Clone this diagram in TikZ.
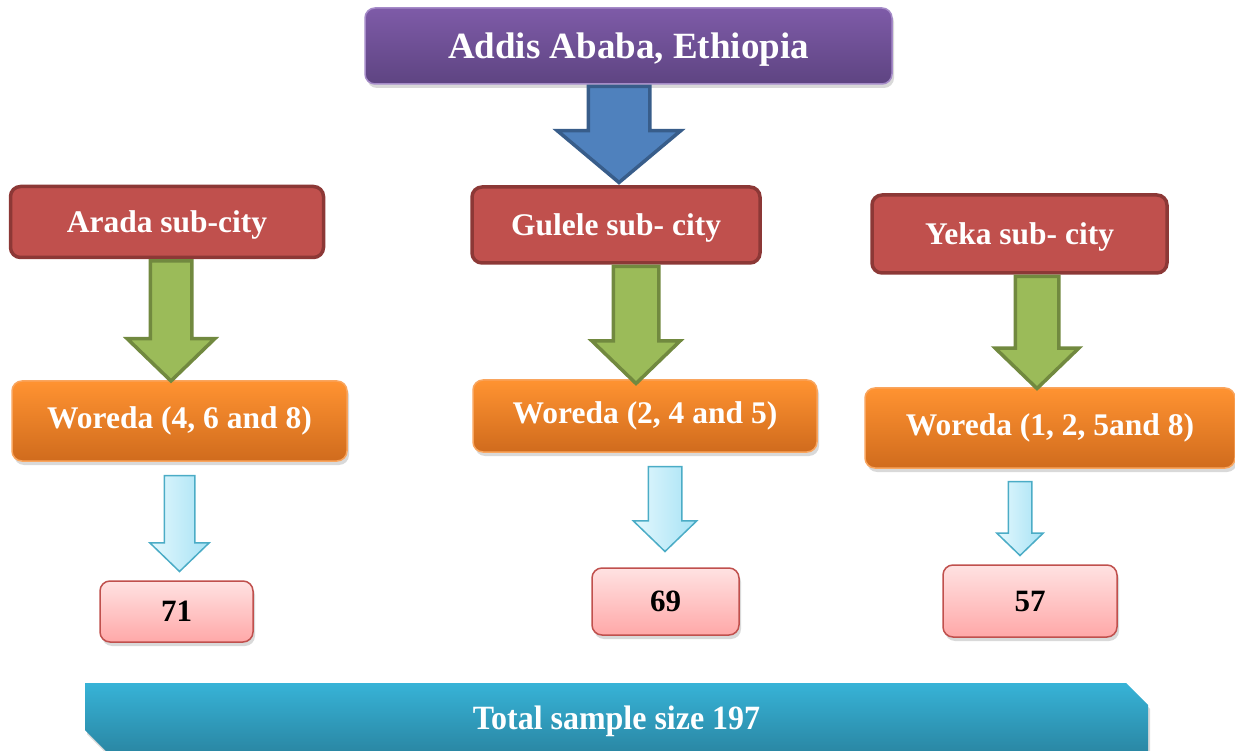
\documentclass[tikz,border=0pt]{standalone}
\usepackage{fontspec}
\setmainfont{Liberation Serif}
\usetikzlibrary{shapes.arrows,shapes.misc,shadows}
\definecolor{cityTop}{HTML}{7E5BA8}
\definecolor{cityBot}{HTML}{5E4482}
\definecolor{cityLine}{HTML}{A58BC8}
\definecolor{subRed}{HTML}{C0504D}
\definecolor{subLine}{HTML}{8C3836}
\definecolor{woredaTop}{HTML}{FF9331}
\definecolor{woredaBot}{HTML}{D06B1D}
\definecolor{woredaLine}{HTML}{F9A55E}
\definecolor{countTop}{HTML}{FFE2E2}
\definecolor{countBot}{HTML}{FFA8A8}
\definecolor{totalTop}{HTML}{37B3D7}
\definecolor{totalBot}{HTML}{2A87A4}
\definecolor{arrowBlue}{HTML}{4F81BD}
\definecolor{arrowBlueLine}{HTML}{385D8A}
\definecolor{arrowGreen}{HTML}{9BBB59}
\definecolor{arrowGreenLine}{HTML}{71893F}
\definecolor{paleTop}{HTML}{E4F8FD}
\definecolor{paleBot}{HTML}{A6E2F5}
\definecolor{paleLine}{HTML}{4BACC6}

\begin{document}
\begin{tikzpicture}[
    x=1pt, y=-1pt,
    soft shadow/.style={drop shadow={shadow xshift=2pt,shadow yshift=-4pt,opacity=0.25,fill=black!60}},
    city node/.style={rounded corners=10pt,draw=cityLine,line width=1.5pt,top color=cityTop,bottom color=cityBot,
      text=white,font=\fontsize{37}{40}\selectfont\bfseries,text depth=1pt,minimum width=527pt,minimum height=76pt,soft shadow},
    subcity node/.style={rounded corners=10pt,draw=subLine,line width=3.5pt,fill=subRed,
      text=white,font=\fontsize{31.5}{34}\selectfont\bfseries,text depth=0pt},
    woreda node/.style={rounded corners=10pt,draw=woredaLine,line width=1.5pt,top color=woredaTop,bottom color=woredaBot,
      text=white,font=\fontsize{31.5}{34}\selectfont\bfseries,soft shadow},
    count node/.style={rounded corners=10pt,draw=subRed,line width=1.5pt,top color=countTop,bottom color=countBot,
      text=black,font=\fontsize{31}{34}\selectfont\bfseries,text depth=0pt,soft shadow},
    total node/.style={chamfered rectangle,chamfered rectangle corners={north east,south west},
      chamfered rectangle xsep=11pt,chamfered rectangle ysep=11pt,top color=totalTop,bottom color=totalBot,
      text=white,font=\fontsize{34}{38}\selectfont\bfseries,text depth=0pt,soft shadow},
    block arrow/.style={single arrow,rotate=-90,inner xsep=0pt,minimum width=0pt,anchor=tail},
    arrow size/.style n args={3}{minimum height=#1,inner ysep=#2,single arrow head extend=#3},
    blue arrow/.style={block arrow,fill=arrowBlue,draw=arrowBlueLine,line width=3.5pt,single arrow tip angle=100},
    green arrow/.style={block arrow,fill=arrowGreen,draw=arrowGreenLine,line width=3.5pt,single arrow tip angle=92},
    pale arrow/.style={block arrow,left color=paleTop,right color=paleBot,draw=paleLine,line width=1.5pt,single arrow tip angle=92}]

  \useasboundingbox (0,0) rectangle (1235,751);

  % city and sub-cities
  \node[city node] (Addis) at (628.5,46) {Addis Ababa, Ethiopia};
  \node[subcity node,minimum width=313pt,minimum height=71pt] (Arada) at (167,222) {Arada sub-city};
  \node[subcity node,minimum width=288pt,minimum height=76pt] (Gulele) at (616,225) {Gulele sub- city};
  \node[subcity node,minimum width=295pt,minimum height=78pt] (Yeka) at (1019.5,234) {Yeka sub- city};

  % woredas
  \node[woreda node,minimum width=335pt,minimum height=80pt] (AradaWoreda) at (179.5,421) {Woreda (4, 6 and 8)};
  \node[woreda node,minimum width=344pt,minimum height=72pt] (GuleleWoreda) at (645,416) {Woreda (2, 4 and 5)};
  \node[woreda node,minimum width=370pt,minimum height=80pt] (YekaWoreda) at (1050,428) {Woreda (1, 2, 5and 8)};

  % samples
  \node[count node,minimum width=153pt,minimum height=61pt] (AradaCount) at (176.5,611.5) {71};
  \node[count node,minimum width=147pt,minimum height=67pt] (GuleleCount) at (665.5,601.5) {69};
  \node[count node,minimum width=174pt,minimum height=72pt] (YekaCount) at (1030,601) {57};

  \node[total node,minimum width=1063pt,minimum height=69pt] (Total) at (616.5,717.5)
    {\scalebox{0.94}[1]{Total sample size 197}};

  % block arrows
  \node[blue arrow,arrow size={96pt}{29pt}{31pt}] (AddisArrow) at ([xshift=-9.5pt]Addis.south) {};
  \node[green arrow,arrow size={120pt}{19pt}{23pt}] (AradaArrow) at ([xshift=4pt]Arada.south) {};
  \node[green arrow,arrow size={117pt}{21pt}{21.5pt}] (GuleleArrow) at ([xshift=20pt]Gulele.south) {};
  \node[green arrow,arrow size={112pt}{20pt}{20pt}] (YekaArrow) at ([xshift=17.5pt]Yeka.south) {};
  \node[pale arrow,arrow size={96pt}{14.5pt}{14.5pt}] (AradaDown) at ([yshift=-13pt]AradaWoreda.south) {};
  \node[pale arrow,arrow size={85pt}{16pt}{15pt}] (GuleleDown) at ([xshift=20pt,yshift=-13pt]GuleleWoreda.south) {};
  \node[pale arrow,arrow size={74pt}{11pt}{11.5pt}] (YekaDown) at ([xshift=-30pt,yshift=-12pt]YekaWoreda.south) {};
\end{tikzpicture}
\end{document}
